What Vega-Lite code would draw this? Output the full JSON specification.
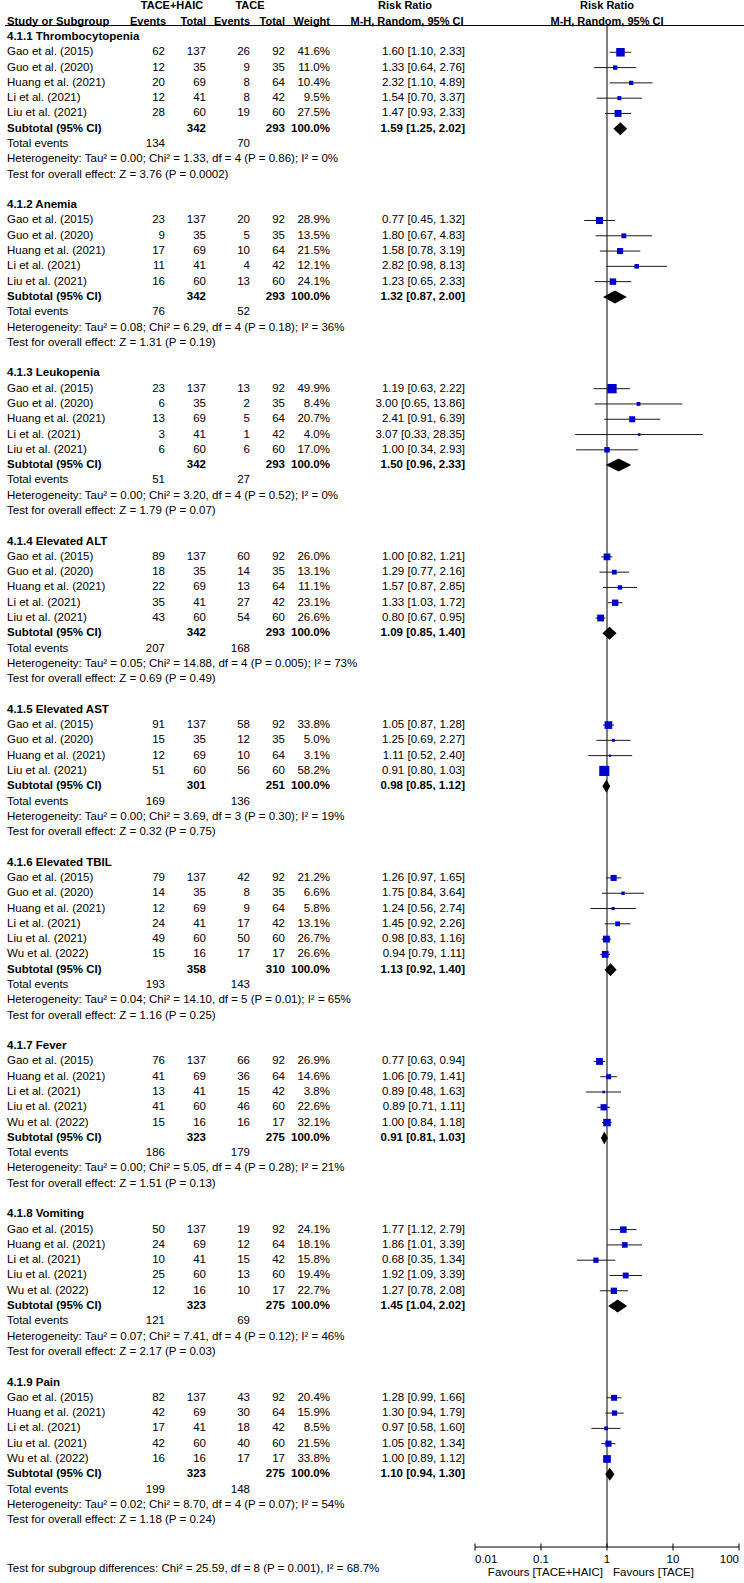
{
"$schema": "https://vega.github.io/schema/vega-lite/v6.json",
"width": 744, "height": 1547,
"autosize": {"type": "none"},
"padding": {"left": 0, "top": 0, "right": 0, "bottom": 36},
"background": "white",
"config": {"view": {"stroke": null}, "text": {"font": "Liberation Sans", "fontSize": 11.5, "color": "black"}},
"data": {"values": [{}]},
"datasets": {
"studies": [
{"row":1,"study":"Gao et al. (2015)","e1":62,"n1":137,"e2":26,"n2":92,"w":"41.6%","wt":41.6,"ci":"1.60 [1.10, 2.33]","rr":1.60,"lo":1.10,"hi":2.33},
{"row":2,"study":"Guo et al. (2020)","e1":12,"n1":35,"e2":9,"n2":35,"w":"11.0%","wt":11.0,"ci":"1.33 [0.64, 2.76]","rr":1.33,"lo":0.64,"hi":2.76},
{"row":3,"study":"Huang et al. (2021)","e1":20,"n1":69,"e2":8,"n2":64,"w":"10.4%","wt":10.4,"ci":"2.32 [1.10, 4.89]","rr":2.32,"lo":1.10,"hi":4.89},
{"row":4,"study":"Li et al. (2021)","e1":12,"n1":41,"e2":8,"n2":42,"w":"9.5%","wt":9.5,"ci":"1.54 [0.70, 3.37]","rr":1.54,"lo":0.70,"hi":3.37},
{"row":5,"study":"Liu et al. (2021)","e1":28,"n1":60,"e2":19,"n2":60,"w":"27.5%","wt":27.5,"ci":"1.47 [0.93, 2.33]","rr":1.47,"lo":0.93,"hi":2.33},
{"row":12,"study":"Gao et al. (2015)","e1":23,"n1":137,"e2":20,"n2":92,"w":"28.9%","wt":28.9,"ci":"0.77 [0.45, 1.32]","rr":0.77,"lo":0.45,"hi":1.32},
{"row":13,"study":"Guo et al. (2020)","e1":9,"n1":35,"e2":5,"n2":35,"w":"13.5%","wt":13.5,"ci":"1.80 [0.67, 4.83]","rr":1.80,"lo":0.67,"hi":4.83},
{"row":14,"study":"Huang et al. (2021)","e1":17,"n1":69,"e2":10,"n2":64,"w":"21.5%","wt":21.5,"ci":"1.58 [0.78, 3.19]","rr":1.58,"lo":0.78,"hi":3.19},
{"row":15,"study":"Li et al. (2021)","e1":11,"n1":41,"e2":4,"n2":42,"w":"12.1%","wt":12.1,"ci":"2.82 [0.98, 8.13]","rr":2.82,"lo":0.98,"hi":8.13},
{"row":16,"study":"Liu et al. (2021)","e1":16,"n1":60,"e2":13,"n2":60,"w":"24.1%","wt":24.1,"ci":"1.23 [0.65, 2.33]","rr":1.23,"lo":0.65,"hi":2.33},
{"row":23,"study":"Gao et al. (2015)","e1":23,"n1":137,"e2":13,"n2":92,"w":"49.9%","wt":49.9,"ci":"1.19 [0.63, 2.22]","rr":1.19,"lo":0.63,"hi":2.22},
{"row":24,"study":"Guo et al. (2020)","e1":6,"n1":35,"e2":2,"n2":35,"w":"8.4%","wt":8.4,"ci":"3.00 [0.65, 13.86]","rr":3.00,"lo":0.65,"hi":13.86},
{"row":25,"study":"Huang et al. (2021)","e1":13,"n1":69,"e2":5,"n2":64,"w":"20.7%","wt":20.7,"ci":"2.41 [0.91, 6.39]","rr":2.41,"lo":0.91,"hi":6.39},
{"row":26,"study":"Li et al. (2021)","e1":3,"n1":41,"e2":1,"n2":42,"w":"4.0%","wt":4.0,"ci":"3.07 [0.33, 28.35]","rr":3.07,"lo":0.33,"hi":28.35},
{"row":27,"study":"Liu et al. (2021)","e1":6,"n1":60,"e2":6,"n2":60,"w":"17.0%","wt":17.0,"ci":"1.00 [0.34, 2.93]","rr":1.00,"lo":0.34,"hi":2.93},
{"row":34,"study":"Gao et al. (2015)","e1":89,"n1":137,"e2":60,"n2":92,"w":"26.0%","wt":26.0,"ci":"1.00 [0.82, 1.21]","rr":1.00,"lo":0.82,"hi":1.21},
{"row":35,"study":"Guo et al. (2020)","e1":18,"n1":35,"e2":14,"n2":35,"w":"13.1%","wt":13.1,"ci":"1.29 [0.77, 2.16]","rr":1.29,"lo":0.77,"hi":2.16},
{"row":36,"study":"Huang et al. (2021)","e1":22,"n1":69,"e2":13,"n2":64,"w":"11.1%","wt":11.1,"ci":"1.57 [0.87, 2.85]","rr":1.57,"lo":0.87,"hi":2.85},
{"row":37,"study":"Li et al. (2021)","e1":35,"n1":41,"e2":27,"n2":42,"w":"23.1%","wt":23.1,"ci":"1.33 [1.03, 1.72]","rr":1.33,"lo":1.03,"hi":1.72},
{"row":38,"study":"Liu et al. (2021)","e1":43,"n1":60,"e2":54,"n2":60,"w":"26.6%","wt":26.6,"ci":"0.80 [0.67, 0.95]","rr":0.80,"lo":0.67,"hi":0.95},
{"row":45,"study":"Gao et al. (2015)","e1":91,"n1":137,"e2":58,"n2":92,"w":"33.8%","wt":33.8,"ci":"1.05 [0.87, 1.28]","rr":1.05,"lo":0.87,"hi":1.28},
{"row":46,"study":"Guo et al. (2020)","e1":15,"n1":35,"e2":12,"n2":35,"w":"5.0%","wt":5.0,"ci":"1.25 [0.69, 2.27]","rr":1.25,"lo":0.69,"hi":2.27},
{"row":47,"study":"Huang et al. (2021)","e1":12,"n1":69,"e2":10,"n2":64,"w":"3.1%","wt":3.1,"ci":"1.11 [0.52, 2.40]","rr":1.11,"lo":0.52,"hi":2.40},
{"row":48,"study":"Liu et al. (2021)","e1":51,"n1":60,"e2":56,"n2":60,"w":"58.2%","wt":58.2,"ci":"0.91 [0.80, 1.03]","rr":0.91,"lo":0.80,"hi":1.03},
{"row":55,"study":"Gao et al. (2015)","e1":79,"n1":137,"e2":42,"n2":92,"w":"21.2%","wt":21.2,"ci":"1.26 [0.97, 1.65]","rr":1.26,"lo":0.97,"hi":1.65},
{"row":56,"study":"Guo et al. (2020)","e1":14,"n1":35,"e2":8,"n2":35,"w":"6.6%","wt":6.6,"ci":"1.75 [0.84, 3.64]","rr":1.75,"lo":0.84,"hi":3.64},
{"row":57,"study":"Huang et al. (2021)","e1":12,"n1":69,"e2":9,"n2":64,"w":"5.8%","wt":5.8,"ci":"1.24 [0.56, 2.74]","rr":1.24,"lo":0.56,"hi":2.74},
{"row":58,"study":"Li et al. (2021)","e1":24,"n1":41,"e2":17,"n2":42,"w":"13.1%","wt":13.1,"ci":"1.45 [0.92, 2.26]","rr":1.45,"lo":0.92,"hi":2.26},
{"row":59,"study":"Liu et al. (2021)","e1":49,"n1":60,"e2":50,"n2":60,"w":"26.7%","wt":26.7,"ci":"0.98 [0.83, 1.16]","rr":0.98,"lo":0.83,"hi":1.16},
{"row":60,"study":"Wu et al. (2022)","e1":15,"n1":16,"e2":17,"n2":17,"w":"26.6%","wt":26.6,"ci":"0.94 [0.79, 1.11]","rr":0.94,"lo":0.79,"hi":1.11},
{"row":67,"study":"Gao et al. (2015)","e1":76,"n1":137,"e2":66,"n2":92,"w":"26.9%","wt":26.9,"ci":"0.77 [0.63, 0.94]","rr":0.77,"lo":0.63,"hi":0.94},
{"row":68,"study":"Huang et al. (2021)","e1":41,"n1":69,"e2":36,"n2":64,"w":"14.6%","wt":14.6,"ci":"1.06 [0.79, 1.41]","rr":1.06,"lo":0.79,"hi":1.41},
{"row":69,"study":"Li et al. (2021)","e1":13,"n1":41,"e2":15,"n2":42,"w":"3.8%","wt":3.8,"ci":"0.89 [0.48, 1.63]","rr":0.89,"lo":0.48,"hi":1.63},
{"row":70,"study":"Liu et al. (2021)","e1":41,"n1":60,"e2":46,"n2":60,"w":"22.6%","wt":22.6,"ci":"0.89 [0.71, 1.11]","rr":0.89,"lo":0.71,"hi":1.11},
{"row":71,"study":"Wu et al. (2022)","e1":15,"n1":16,"e2":16,"n2":17,"w":"32.1%","wt":32.1,"ci":"1.00 [0.84, 1.18]","rr":1.00,"lo":0.84,"hi":1.18},
{"row":78,"study":"Gao et al. (2015)","e1":50,"n1":137,"e2":19,"n2":92,"w":"24.1%","wt":24.1,"ci":"1.77 [1.12, 2.79]","rr":1.77,"lo":1.12,"hi":2.79},
{"row":79,"study":"Huang et al. (2021)","e1":24,"n1":69,"e2":12,"n2":64,"w":"18.1%","wt":18.1,"ci":"1.86 [1.01, 3.39]","rr":1.86,"lo":1.01,"hi":3.39},
{"row":80,"study":"Li et al. (2021)","e1":10,"n1":41,"e2":15,"n2":42,"w":"15.8%","wt":15.8,"ci":"0.68 [0.35, 1.34]","rr":0.68,"lo":0.35,"hi":1.34},
{"row":81,"study":"Liu et al. (2021)","e1":25,"n1":60,"e2":13,"n2":60,"w":"19.4%","wt":19.4,"ci":"1.92 [1.09, 3.39]","rr":1.92,"lo":1.09,"hi":3.39},
{"row":82,"study":"Wu et al. (2022)","e1":12,"n1":16,"e2":10,"n2":17,"w":"22.7%","wt":22.7,"ci":"1.27 [0.78, 2.08]","rr":1.27,"lo":0.78,"hi":2.08},
{"row":89,"study":"Gao et al. (2015)","e1":82,"n1":137,"e2":43,"n2":92,"w":"20.4%","wt":20.4,"ci":"1.28 [0.99, 1.66]","rr":1.28,"lo":0.99,"hi":1.66},
{"row":90,"study":"Huang et al. (2021)","e1":42,"n1":69,"e2":30,"n2":64,"w":"15.9%","wt":15.9,"ci":"1.30 [0.94, 1.79]","rr":1.30,"lo":0.94,"hi":1.79},
{"row":91,"study":"Li et al. (2021)","e1":17,"n1":41,"e2":18,"n2":42,"w":"8.5%","wt":8.5,"ci":"0.97 [0.58, 1.60]","rr":0.97,"lo":0.58,"hi":1.60},
{"row":92,"study":"Liu et al. (2021)","e1":42,"n1":60,"e2":40,"n2":60,"w":"21.5%","wt":21.5,"ci":"1.05 [0.82, 1.34]","rr":1.05,"lo":0.82,"hi":1.34},
{"row":93,"study":"Wu et al. (2022)","e1":16,"n1":16,"e2":17,"n2":17,"w":"33.8%","wt":33.8,"ci":"1.00 [0.89, 1.12]","rr":1.00,"lo":0.89,"hi":1.12}
],
"subtotals": [
{"row":6,"n1":342,"n2":293,"w":"100.0%","ci":"1.59 [1.25, 2.02]","rr":1.59,"lo":1.25,"hi":2.02},
{"row":17,"n1":342,"n2":293,"w":"100.0%","ci":"1.32 [0.87, 2.00]","rr":1.32,"lo":0.87,"hi":2.00},
{"row":28,"n1":342,"n2":293,"w":"100.0%","ci":"1.50 [0.96, 2.33]","rr":1.50,"lo":0.96,"hi":2.33},
{"row":39,"n1":342,"n2":293,"w":"100.0%","ci":"1.09 [0.85, 1.40]","rr":1.09,"lo":0.85,"hi":1.40},
{"row":49,"n1":301,"n2":251,"w":"100.0%","ci":"0.98 [0.85, 1.12]","rr":0.98,"lo":0.85,"hi":1.12},
{"row":61,"n1":358,"n2":310,"w":"100.0%","ci":"1.13 [0.92, 1.40]","rr":1.13,"lo":0.92,"hi":1.40},
{"row":72,"n1":323,"n2":275,"w":"100.0%","ci":"0.91 [0.81, 1.03]","rr":0.91,"lo":0.81,"hi":1.03},
{"row":83,"n1":323,"n2":275,"w":"100.0%","ci":"1.45 [1.04, 2.02]","rr":1.45,"lo":1.04,"hi":2.02},
{"row":94,"n1":323,"n2":275,"w":"100.0%","ci":"1.10 [0.94, 1.30]","rr":1.10,"lo":0.94,"hi":1.30}
],
"totals": [
{"row":7,"e1":134,"e2":70},{"row":18,"e1":76,"e2":52},{"row":29,"e1":51,"e2":27},
{"row":40,"e1":207,"e2":168},{"row":50,"e1":169,"e2":136},{"row":62,"e1":193,"e2":143},
{"row":73,"e1":186,"e2":179},{"row":84,"e1":121,"e2":69},{"row":95,"e1":199,"e2":148}
],
"groups": [
{"row":0,"label":"4.1.1 Thrombocytopenia"},{"row":11,"label":"4.1.2 Anemia"},{"row":22,"label":"4.1.3 Leukopenia"},
{"row":33,"label":"4.1.4 Elevated ALT"},{"row":44,"label":"4.1.5 Elevated AST"},{"row":54,"label":"4.1.6 Elevated TBIL"},
{"row":66,"label":"4.1.7 Fever"},{"row":77,"label":"4.1.8 Vomiting"},{"row":88,"label":"4.1.9 Pain"}
],
"notes": [
{"row":8,"text":"Heterogeneity: Tau² = 0.00; Chi² = 1.33, df = 4 (P = 0.86); I² = 0%"},
{"row":9,"text":"Test for overall effect: Z = 3.76 (P = 0.0002)"},
{"row":19,"text":"Heterogeneity: Tau² = 0.08; Chi² = 6.29, df = 4 (P = 0.18); I² = 36%"},
{"row":20,"text":"Test for overall effect: Z = 1.31 (P = 0.19)"},
{"row":30,"text":"Heterogeneity: Tau² = 0.00; Chi² = 3.20, df = 4 (P = 0.52); I² = 0%"},
{"row":31,"text":"Test for overall effect: Z = 1.79 (P = 0.07)"},
{"row":41,"text":"Heterogeneity: Tau² = 0.05; Chi² = 14.88, df = 4 (P = 0.005); I² = 73%"},
{"row":42,"text":"Test for overall effect: Z = 0.69 (P = 0.49)"},
{"row":51,"text":"Heterogeneity: Tau² = 0.00; Chi² = 3.69, df = 3 (P = 0.30); I² = 19%"},
{"row":52,"text":"Test for overall effect: Z = 0.32 (P = 0.75)"},
{"row":63,"text":"Heterogeneity: Tau² = 0.04; Chi² = 14.10, df = 5 (P = 0.01); I² = 65%"},
{"row":64,"text":"Test for overall effect: Z = 1.16 (P = 0.25)"},
{"row":74,"text":"Heterogeneity: Tau² = 0.00; Chi² = 5.05, df = 4 (P = 0.28); I² = 21%"},
{"row":75,"text":"Test for overall effect: Z = 1.51 (P = 0.13)"},
{"row":85,"text":"Heterogeneity: Tau² = 0.07; Chi² = 7.41, df = 4 (P = 0.12); I² = 46%"},
{"row":86,"text":"Test for overall effect: Z = 2.17 (P = 0.03)"},
{"row":96,"text":"Heterogeneity: Tau² = 0.02; Chi² = 8.70, df = 4 (P = 0.07); I² = 54%"},
{"row":97,"text":"Test for overall effect: Z = 1.18 (P = 0.24)"},
{"row":100.2,"text":"Test for subgroup differences: Chi² = 25.59, df = 8 (P = 0.001), I² = 68.7%"}
],
"ticks": [{"v":0.01,"label":"0.01"},{"v":0.1,"label":"0.1"},{"v":1,"label":"1"},{"v":10,"label":"10"},{"v":100,"label":"100"}]
},
"layer": [
{
"layer": [
{"data": {"name": "studies"}, "mark": {"type": "text", "align": "left"}, "encoding": {"y": {"field": "row", "type": "quantitative", "scale": {"domain": [0, 97], "range": [37, 1520.13], "nice": false, "zero": false}, "axis": null}, "x": {"datum": 7, "type": "quantitative", "scale": {"domain": [0, 744], "nice": false, "zero": false}, "axis": null}, "text": {"field": "study"}}},
{"data": {"name": "studies"}, "mark": {"type": "text", "align": "right"}, "encoding": {"y": {"field": "row", "type": "quantitative", "axis": null}, "x": {"datum": 165, "type": "quantitative", "axis": null}, "text": {"field": "e1"}}},
{"data": {"name": "studies"}, "mark": {"type": "text", "align": "right"}, "encoding": {"y": {"field": "row", "type": "quantitative", "axis": null}, "x": {"datum": 206, "type": "quantitative", "axis": null}, "text": {"field": "n1"}}},
{"data": {"name": "studies"}, "mark": {"type": "text", "align": "right"}, "encoding": {"y": {"field": "row", "type": "quantitative", "axis": null}, "x": {"datum": 250, "type": "quantitative", "axis": null}, "text": {"field": "e2"}}},
{"data": {"name": "studies"}, "mark": {"type": "text", "align": "right"}, "encoding": {"y": {"field": "row", "type": "quantitative", "axis": null}, "x": {"datum": 285, "type": "quantitative", "axis": null}, "text": {"field": "n2"}}},
{"data": {"name": "studies"}, "mark": {"type": "text", "align": "right"}, "encoding": {"y": {"field": "row", "type": "quantitative", "axis": null}, "x": {"datum": 330, "type": "quantitative", "axis": null}, "text": {"field": "w"}}},
{"data": {"name": "studies"}, "mark": {"type": "text", "align": "right"}, "encoding": {"y": {"field": "row", "type": "quantitative", "axis": null}, "x": {"datum": 465, "type": "quantitative", "axis": null}, "text": {"field": "ci"}}},
{"data": {"name": "subtotals"}, "mark": {"type": "text", "align": "left", "fontWeight": "bold", "text": "Subtotal (95% CI)"}, "encoding": {"y": {"field": "row", "type": "quantitative", "axis": null}, "x": {"datum": 7, "type": "quantitative", "axis": null}}},
{"data": {"name": "subtotals"}, "mark": {"type": "text", "align": "right", "fontWeight": "bold"}, "encoding": {"y": {"field": "row", "type": "quantitative", "axis": null}, "x": {"datum": 206, "type": "quantitative", "axis": null}, "text": {"field": "n1"}}},
{"data": {"name": "subtotals"}, "mark": {"type": "text", "align": "right", "fontWeight": "bold"}, "encoding": {"y": {"field": "row", "type": "quantitative", "axis": null}, "x": {"datum": 285, "type": "quantitative", "axis": null}, "text": {"field": "n2"}}},
{"data": {"name": "subtotals"}, "mark": {"type": "text", "align": "right", "fontWeight": "bold"}, "encoding": {"y": {"field": "row", "type": "quantitative", "axis": null}, "x": {"datum": 330, "type": "quantitative", "axis": null}, "text": {"field": "w"}}},
{"data": {"name": "subtotals"}, "mark": {"type": "text", "align": "right", "fontWeight": "bold"}, "encoding": {"y": {"field": "row", "type": "quantitative", "axis": null}, "x": {"datum": 465, "type": "quantitative", "axis": null}, "text": {"field": "ci"}}},
{"data": {"name": "totals"}, "mark": {"type": "text", "align": "left", "text": "Total events"}, "encoding": {"y": {"field": "row", "type": "quantitative", "axis": null}, "x": {"datum": 7, "type": "quantitative", "axis": null}}},
{"data": {"name": "totals"}, "mark": {"type": "text", "align": "right"}, "encoding": {"y": {"field": "row", "type": "quantitative", "axis": null}, "x": {"datum": 165, "type": "quantitative", "axis": null}, "text": {"field": "e1"}}},
{"data": {"name": "totals"}, "mark": {"type": "text", "align": "right"}, "encoding": {"y": {"field": "row", "type": "quantitative", "axis": null}, "x": {"datum": 250, "type": "quantitative", "axis": null}, "text": {"field": "e2"}}},
{"data": {"name": "groups"}, "mark": {"type": "text", "align": "left", "fontWeight": "bold"}, "encoding": {"y": {"field": "row", "type": "quantitative", "axis": null}, "x": {"datum": 7, "type": "quantitative", "axis": null}, "text": {"field": "label"}}},
{"data": {"name": "notes"}, "mark": {"type": "text", "align": "left"}, "encoding": {"y": {"field": "row", "type": "quantitative", "axis": null}, "x": {"datum": 7, "type": "quantitative", "axis": null}, "text": {"field": "text"}}},
{"mark": {"type": "text", "align": "center", "fontWeight": "bold", "fontSize": 11, "text": "TACE+HAIC"}, "encoding": {"x": {"datum": 172, "type": "quantitative", "axis": null}, "y": {"datum": -2, "type": "quantitative", "axis": null}}},
{"mark": {"type": "text", "align": "center", "fontWeight": "bold", "fontSize": 11, "text": "TACE"}, "encoding": {"x": {"datum": 250, "type": "quantitative", "axis": null}, "y": {"datum": -2, "type": "quantitative", "axis": null}}},
{"mark": {"type": "text", "align": "center", "fontWeight": "bold", "fontSize": 11, "text": "Risk Ratio"}, "encoding": {"x": {"datum": 405, "type": "quantitative", "axis": null}, "y": {"datum": -2, "type": "quantitative", "axis": null}}},
{"mark": {"type": "text", "align": "left", "fontWeight": "bold", "fontSize": 11.3, "text": "Study or Subgroup"}, "encoding": {"x": {"datum": 7, "type": "quantitative", "axis": null}, "y": {"datum": -1, "type": "quantitative", "axis": null}}},
{"mark": {"type": "text", "align": "right", "fontWeight": "bold", "fontSize": 11, "text": "Events"}, "encoding": {"x": {"datum": 166, "type": "quantitative", "axis": null}, "y": {"datum": -1, "type": "quantitative", "axis": null}}},
{"mark": {"type": "text", "align": "right", "fontWeight": "bold", "fontSize": 11, "text": "Total"}, "encoding": {"x": {"datum": 206, "type": "quantitative", "axis": null}, "y": {"datum": -1, "type": "quantitative", "axis": null}}},
{"mark": {"type": "text", "align": "right", "fontWeight": "bold", "fontSize": 11, "text": "Events"}, "encoding": {"x": {"datum": 250, "type": "quantitative", "axis": null}, "y": {"datum": -1, "type": "quantitative", "axis": null}}},
{"mark": {"type": "text", "align": "right", "fontWeight": "bold", "fontSize": 11, "text": "Total"}, "encoding": {"x": {"datum": 285, "type": "quantitative", "axis": null}, "y": {"datum": -1, "type": "quantitative", "axis": null}}},
{"mark": {"type": "text", "align": "right", "fontWeight": "bold", "fontSize": 11, "text": "Weight"}, "encoding": {"x": {"datum": 330, "type": "quantitative", "axis": null}, "y": {"datum": -1, "type": "quantitative", "axis": null}}},
{"mark": {"type": "text", "align": "center", "fontWeight": "bold", "fontSize": 11, "text": "M-H, Random, 95% CI"}, "encoding": {"x": {"datum": 407, "type": "quantitative", "axis": null}, "y": {"datum": -1, "type": "quantitative", "axis": null}}},
{"mark": {"type": "rule", "color": "black", "strokeWidth": 1}, "encoding": {"x": {"datum": 5, "type": "quantitative", "axis": null}, "x2": {"datum": 744}, "y": {"datum": -0.75, "type": "quantitative", "axis": null}}}
]
},
{
"layer": [
{"mark": {"type": "rule", "color": "black", "strokeWidth": 1}, "encoding": {"x": {"datum": 1, "type": "quantitative", "scale": {"type": "log", "domain": [0.01, 100], "range": [475, 739], "nice": false}, "axis": null}, "y": {"datum": -0.75, "type": "quantitative", "axis": null}, "y2": {"datum": 98.76}}},
{"mark": {"type": "rule", "color": "black", "strokeWidth": 1}, "encoding": {"x": {"datum": 0.01, "type": "quantitative", "axis": null}, "x2": {"datum": 100}, "y": {"datum": 98.76, "type": "quantitative", "axis": null}}},
{"data": {"name": "ticks"}, "mark": {"type": "rule", "color": "black", "strokeWidth": 1}, "encoding": {"x": {"field": "v", "type": "quantitative", "axis": null}, "y": {"datum": 98.53, "type": "quantitative", "axis": null}, "y2": {"datum": 98.99}}},
{"data": {"name": "ticks"}, "transform": [{"filter": "datum.v > 0.05 && datum.v < 50"}], "mark": {"type": "text", "align": "center"}, "encoding": {"x": {"field": "v", "type": "quantitative", "axis": null}, "y": {"datum": 99.6, "type": "quantitative", "axis": null}, "text": {"field": "label"}}},
{"data": {"name": "ticks"}, "transform": [{"filter": "datum.v < 0.05"}], "mark": {"type": "text", "align": "left"}, "encoding": {"x": {"field": "v", "type": "quantitative", "axis": null}, "y": {"datum": 99.6, "type": "quantitative", "axis": null}, "text": {"field": "label"}}},
{"data": {"name": "ticks"}, "transform": [{"filter": "datum.v > 50"}], "mark": {"type": "text", "align": "right"}, "encoding": {"x": {"field": "v", "type": "quantitative", "axis": null}, "y": {"datum": 99.6, "type": "quantitative", "axis": null}, "text": {"field": "label"}}},
{"data": {"name": "studies"}, "mark": {"type": "rule", "color": "#1a1a1a", "strokeWidth": 1}, "encoding": {"x": {"field": "lo", "type": "quantitative", "axis": null}, "x2": {"field": "hi"}, "y": {"field": "row", "type": "quantitative", "axis": null}}},
{"data": {"name": "studies"}, "mark": {"type": "point", "shape": "square", "filled": true, "color": "#0000CC", "opacity": 1}, "encoding": {"x": {"field": "rr", "type": "quantitative", "axis": null}, "y": {"field": "row", "type": "quantitative", "axis": null}, "size": {"field": "wt", "type": "quantitative", "scale": {"domain": [0, 60], "range": [0, 105]}, "legend": null}}},
{"data": {"name": "subtotals"}, "transform": [{"fold": ["lo", "rr", "hi"], "as": ["key", "value"]}], "mark": {"type": "area", "orient": "vertical", "color": "black", "opacity": 1, "yOffset": {"expr": "datum.key === 'rr' ? -6.5 : 0"}, "y2Offset": {"expr": "datum.key === 'rr' ? 6.5 : 0"}}, "encoding": {"x": {"field": "value", "type": "quantitative", "axis": null}, "y": {"field": "row", "type": "quantitative", "axis": null}, "y2": {"field": "row"}, "detail": {"field": "row", "type": "nominal"}}},
{"mark": {"type": "text", "align": "center", "fontWeight": "bold", "fontSize": 11, "text": "Risk Ratio"}, "encoding": {"x": {"datum": 1, "type": "quantitative", "axis": null}, "y": {"datum": -2, "type": "quantitative", "axis": null}}},
{"mark": {"type": "text", "align": "center", "fontWeight": "bold", "fontSize": 11, "text": "M-H, Random, 95% CI"}, "encoding": {"x": {"datum": 1, "type": "quantitative", "axis": null}, "y": {"datum": -1, "type": "quantitative", "axis": null}}},
{"mark": {"type": "text", "align": "right", "dx": -4, "text": "Favours [TACE+HAIC]"}, "encoding": {"x": {"datum": 1, "type": "quantitative", "axis": null}, "y": {"datum": 100.45, "type": "quantitative", "axis": null}}},
{"mark": {"type": "text", "align": "left", "dx": 6, "text": "Favours [TACE]"}, "encoding": {"x": {"datum": 1, "type": "quantitative", "axis": null}, "y": {"datum": 100.45, "type": "quantitative", "axis": null}}}
]
}
],
"resolve": {"scale": {"x": "independent"}}
}
